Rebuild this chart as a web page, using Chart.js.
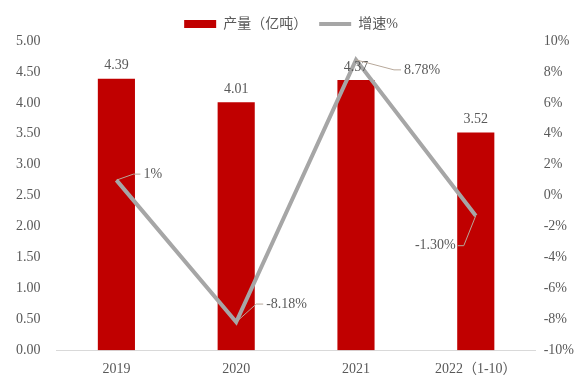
<!DOCTYPE html>
<html>
<head>
<meta charset="utf-8">
<script src="https://cdn.jsdelivr.net/npm/chart.js@4"></script>
<style>
  html, body { margin: 0; padding: 0; background: #fff; }
  #wrap { width: 577px; height: 376px; }
</style>
</head>
<body>
<div id="wrap"><canvas id="chart"></canvas></div>
<script>
const years = ['2019', '2020', '2021', '2022（1-10）'];
const output = [4.39, 4.01, 4.37, 3.52];
const growth = [1, -8.18, 8.78, -1.30];
const growthLabels = ['1%', '-8.18%', '8.78%', '-1.30%'];

const FONT = '"Liberation Serif", "Noto Sans CJK SC", serif';
const TEXT = '#595959';

// where each growth label sits, relative to its point
const calloutOffsets = [[27, -6], [30, -18], [48, 10], [-20, 30]];

const valueLabels = {
  id: 'valueLabels',
  afterDatasetsDraw(chart) {
    const ctx = chart.ctx;
    ctx.save();
    ctx.font = '14px ' + FONT;
    ctx.fillStyle = TEXT;
    ctx.textBaseline = 'bottom';
    ctx.textAlign = 'center';
    chart.getDatasetMeta(0).data.forEach((bar, i) => {
      ctx.fillText(output[i].toFixed(2), bar.x, bar.y - 6);
    });
    ctx.textBaseline = 'middle';
    chart.getDatasetMeta(1).data.forEach((pt, i) => {
      const [dx, dy] = calloutOffsets[i];
      const tx = pt.x + dx, ty = pt.y + dy;
      ctx.strokeStyle = '#b7a89a';
      ctx.lineWidth = 1;
      ctx.beginPath();
      ctx.moveTo(pt.x, pt.y);
      if (dx > 0) {
        ctx.lineTo(tx - 10, ty);
        ctx.lineTo(tx - 3, ty);
        ctx.stroke();
        ctx.textAlign = 'left';
        ctx.fillText(growthLabels[i], tx, ty);
      } else {
        ctx.lineTo(tx + 8, ty);
        ctx.lineTo(tx + 2, ty);
        ctx.stroke();
        ctx.textAlign = 'right';
        ctx.fillText(growthLabels[i], tx, ty);
      }
    });
    ctx.restore();
  }
};

new Chart(document.getElementById('chart'), {
  data: {
    labels: years,
    datasets: [
      {
        type: 'bar',
        label: '产量（亿吨）',
        data: output,
        backgroundColor: '#c00000',
        barPercentage: 0.62,
        categoryPercentage: 0.5,
        yAxisID: 'y',
        order: 2
      },
      {
        type: 'line',
        label: '增速%',
        data: growth,
        borderColor: '#a6a6a6',
        backgroundColor: '#a6a6a6',
        borderWidth: 4,
        pointRadius: 0,
        tension: 0,
        yAxisID: 'y1',
        order: 1
      }
    ]
  },
  options: {
    responsive: true,
    maintainAspectRatio: false,
    animation: false,
    layout: { padding: { left: 0, right: -5, top: 5, bottom: -13 } },
    plugins: {
      tooltip: { enabled: false },
      legend: {
        position: 'top',
        labels: {
          font: { size: 14, family: FONT },
          color: TEXT,
          usePointStyle: true,
          pointStyleWidth: 32,
          boxHeight: 8,
          padding: 12,
          generateLabels(chart) {
            return chart.data.datasets.map((ds, i) => ({
              text: ds.label,
              fillStyle: ds.backgroundColor,
              strokeStyle: ds.type === 'line' ? ds.borderColor : ds.backgroundColor,
              lineWidth: ds.type === 'line' ? 4 : 0,
              pointStyle: ds.type === 'line' ? 'line' : 'rect',
              fontColor: TEXT,
              hidden: false,
              datasetIndex: i
            }));
          }
        }
      }
    },
    scales: {
      x: {
        grid: { display: false, drawTicks: false },
        border: { color: '#d9d9d9' },
        ticks: { font: { size: 14, family: FONT }, color: TEXT, padding: 11 }
      },
      y: {
        position: 'left',
        min: 0,
        max: 5,
        grid: { display: false, drawTicks: false },
        border: { display: false },
        ticks: {
          stepSize: 0.5,
          font: { size: 14, family: FONT },
          color: TEXT,
          padding: 16,
          callback: v => v.toFixed(2)
        }
      },
      y1: {
        position: 'right',
        min: -10,
        max: 10,
        grid: { display: false, drawTicks: false },
        border: { display: false },
        ticks: {
          stepSize: 2,
          font: { size: 14, family: FONT },
          color: TEXT,
          padding: 8,
          callback: v => v + '%'
        }
      }
    }
  },
  plugins: [valueLabels]
});
</script>
</body>
</html>
